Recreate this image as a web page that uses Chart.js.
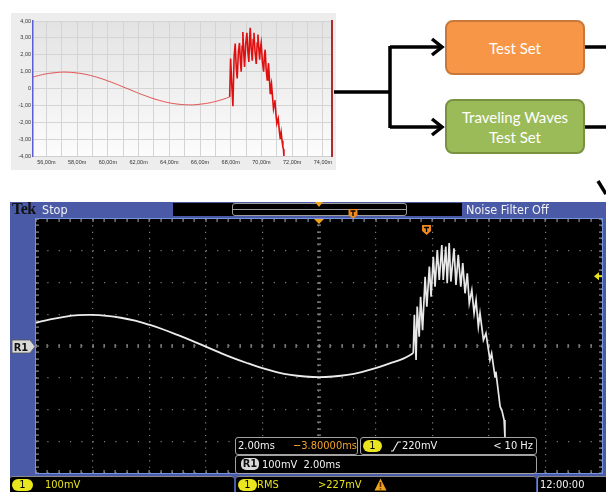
<!DOCTYPE html>
<html>
<head>
<meta charset="utf-8">
<script src="https://cdn.jsdelivr.net/npm/chart.js@4.4.1/dist/chart.umd.min.js"></script>
<style>
  body { margin: 0; width: 606px; height: 492px; position: relative; overflow: hidden; background: #fff; }
  .abs { position: absolute; }
  #wavePanel { left: 11px; top: 13px; width: 325px; height: 157px; background: #ededed; }
  .box { position: absolute; left: 445px; width: 140px; height: 55px; border-radius: 8px; box-sizing: border-box;
         color: #fff; font: 15px Lato, "Open Sans", sans-serif; display: flex; align-items: center;
         justify-content: center; text-align: center; line-height: 20px; }
  .orange { top: 20px; background: #f79646; border: 2px solid #c8783a; }
  .green { top: 99px; background: #9bbb59; border: 2px solid #78923f; }
  #scope { left: 10px; top: 202px; width: 596px; height: 290px; background: #4a5aa6; }
  .sc { font-family: "Liberation Sans Narrow", "DejaVu Sans Condensed", sans-serif; font-size: 11px; line-height: 14px; white-space: nowrap; }
  .w { color: #f2f2f2; }
  .yl { color: #e6e21c; }
  .ro { position: absolute; background: #000; border: 1.5px solid #a3a3a3; border-radius: 3px; box-sizing: border-box; }
  .ro span, .seg span, .seg div, .ro div { position: absolute; }
  .seg { position: absolute; top: 476px; height: 16px; background: #000; border-top: 1px solid #8a8a8a; }
  .badge { background: #e9e51e; color: #000; border-radius: 6px; text-align: center; height: 12px; line-height: 12px; }
</style>
</head>
<body>

<div id="wavePanel" class="abs"><canvas id="waveChart" width="325" height="157"></canvas></div>

<svg class="abs" style="left:0;top:0" width="606" height="200">
  <g stroke="#000" stroke-width="3.5" fill="none" stroke-linejoin="miter">
    <path d="M334,92 H390 M390,46 V128 M390,47 H441 M390,127 H441 M585,47 H606 M585,127 H606"/>
    <polyline points="432,39 442,47 432,55"/>
    <polyline points="432,119 442,127 432,135"/>
    <path d="M598,181 L606,194"/>
  </g>
</svg>
<div class="box orange">Test Set</div>
<div class="box green">Traveling Waves<br>Test Set</div>

<!-- oscilloscope frame -->
<div id="scope" class="abs"></div>
<div class="abs" style="left:12px;top:200px;font:bold 16px 'Liberation Serif',serif;color:#111;letter-spacing:-0.5px">Tek</div>
<div class="abs sc w" style="left:42px;top:203px;font-size:12.5px">Stop</div>
<div class="abs" style="left:173px;top:203px;width:289px;height:13px;background:#000"></div>
<div class="abs" style="left:232px;top:203px;width:175px;height:13px;border:1.5px solid #9c9c9c;border-radius:3px;box-sizing:border-box"></div>
<div class="abs" style="left:233px;top:208.5px;width:173px;height:1.5px;background:#9c9c9c"></div>
<svg class="abs" style="left:0;top:195px" width="606" height="30">
  <polygon points="315,7 323,7 319,12" fill="#f0a21c"/>
  <path d="M348.5,14 h9 v6 l-4.5,4 l-4.5,-4 z" fill="#f08a1c"/>
  <path d="M350.5,16 h5 M353,16 v5" stroke="#000" stroke-width="1.3"/>
</svg>
<div class="abs sc w" style="left:466px;top:203px;font-size:12.5px">Noise Filter Off</div>

<canvas id="scopeChart" class="abs" width="566" height="254" style="left:36px;top:219px;background:#000;outline:1px solid #7393e0"></canvas>

<svg id="r1Marker" class="abs" style="left:11px;top:339px" width="26" height="15">
  <path d="M1,1 h18 l5,6.5 l-5,6.5 h-18 z" fill="#d9d9d9" stroke="#555" stroke-width="0.8"/>
  <text x="10" y="11.5" text-anchor="middle" font-family="Liberation Sans Narrow, DejaVu Sans Condensed, sans-serif" font-weight="bold" font-size="11" fill="#111">R1</text>
</svg>

<!-- readouts over the graticule -->
<div class="ro sc" style="left:235px;top:437px;width:123px;height:18px">
  <span class="w" style="left:2px;top:1px">2.00ms</span>
  <span style="left:57px;top:1px;color:#f2a22a">−3.80000ms</span>
</div>
<div class="ro sc" style="left:360px;top:437px;width:177px;height:18px">
  <div class="badge" style="left:2px;top:1.5px;width:19px">1</div>
  <svg style="position:absolute;left:30px;top:3px" width="10" height="11"><path d="M0,10 H2 L7,1 H10" stroke="#eee" stroke-width="1.2" fill="none"/></svg>
  <span class="w" style="left:41px;top:1px">220mV</span>
  <span class="w" style="right:3px;top:1px">&lt; 10 Hz</span>
</div>
<div class="ro sc" style="left:235px;top:455px;width:302px;height:19px">
  <div style="left:5px;top:2px;width:18px;height:12px;background:#d9d9d9;color:#111;border-radius:5px;text-align:center;line-height:12px;font-weight:bold">R1</div>
  <span class="w" style="left:26px;top:1.5px">100mV&nbsp;&nbsp;2.00ms</span>
</div>

<!-- bottom readout row -->
<div class="seg sc" style="left:10px;width:224px;border-radius:3px 3px 0 0">
  <div class="badge" style="left:2px;top:1.5px;width:21px">1</div>
  <span class="yl" style="left:35px;top:1px">100mV</span>
</div>
<div class="seg sc" style="left:236px;width:300px;border-radius:3px 3px 0 0">
  <div class="badge" style="left:2px;top:1.5px;width:19px">1</div>
  <span class="yl" style="left:21px;top:1px">RMS</span>
  <span class="yl" style="left:82px;top:1px">&gt;227mV</span>
  <svg style="position:absolute;left:138px;top:1px" width="13" height="13">
    <polygon points="6.5,0.5 12.5,12.5 0.5,12.5" fill="#f0a21c"/>
    <path d="M6.5,4 V9 M6.5,10.3 V11.6" stroke="#5a2a00" stroke-width="1.6"/>
  </svg>
</div>
<div class="seg sc" style="left:537px;width:69px;border-radius:3px 0 0 0;border-left:1px solid #8a8a8a">
  <span class="w" style="left:2px;top:1px">12:00:00</span>
</div>

<script>
// --- reference waveform (top left), time in ms, value in kV ---
const refSmoothTimes = [55.1, 55.5, 56.0, 56.5, 57.0, 57.5, 58.0, 58.5, 59.0, 59.5, 60.0, 60.5, 61.0, 61.5,
                        62.0, 62.5, 63.0, 63.5, 64.0, 64.5, 65.0, 65.5, 66.0, 66.5, 67.0, 67.5, 67.93];
const refSmoothValues = [0.67, 0.77, 0.87, 0.93, 0.97, 0.96, 0.92, 0.85, 0.74, 0.61, 0.45, 0.28, 0.09, -0.09,
                         -0.28, -0.45, -0.61, -0.74, -0.85, -0.92, -0.96, -0.97, -0.93, -0.87, -0.77, -0.64, -0.50];
const refBurstTimes = [67.93, 67.99, 68.07, 68.14, 68.22, 68.29, 68.36, 68.42, 68.50, 68.57, 68.63, 68.68, 68.74,
                       68.79, 68.85, 68.90, 68.97, 69.05, 69.12, 69.18, 69.23, 69.27, 69.33, 69.40, 69.46, 69.51,
                       69.58, 69.66, 69.72, 69.77, 69.83, 69.88, 69.93, 69.98, 70.06, 70.14, 70.19, 70.24, 70.30,
                       70.37, 70.42, 70.46, 70.52, 70.57, 70.61, 70.65, 70.72, 70.78, 70.83, 70.87, 70.94, 71.00,
                       71.05, 71.09, 71.16, 71.22, 71.25, 71.28, 71.34, 71.39, 71.43, 71.46];
const refBurstValues = [-0.50, 1.78, 0.20, -1.05, 1.90, 2.66, 1.20, 0.59, 2.20, 2.70, 1.60, 1.00, 2.50,
                        3.35, 2.00, 1.28, 2.60, 3.30, 2.10, 1.57, 3.00, 3.60, 2.40, 1.65, 2.90, 3.30,
                        2.20, 1.45, 2.70, 3.20, 2.30, 1.70, 2.40, 2.70, 1.60, 1.00, 1.90, 2.30, 1.20,
                        0.50, 1.10, 1.50, 0.50, -0.30, 0.10, 0.30, -0.50, -1.18, -0.90, -0.69, -1.50, -2.07,
                        -1.90, -1.78, -2.50, -2.96, -2.80, -2.60, -3.10, -3.45, -3.60, -4.00];
const refTimeTicks = [56, 58, 60, 62, 64, 66, 68, 70, 72, 74];
const refTimeLabels = ['56,00m', '58,00m', '60,00m', '62,00m', '64,00m', '66,00m', '68,00m', '70,00m', '72,00m', '74,00m'];
const refValueTicks = [4, 3, 2, 1, 0, -1, -2, -3, -4];
const refValueLabels = ['4,00', '3,00', '2,00', '1,00', '0', '-1,00', '-2,00', '-3,00', '-4,00'];

// --- oscilloscope capture (bottom), time in ms from trigger, value in mV ---
const scopeSmoothTimes = [-10, -9.5, -9, -8.5, -8, -7.5, -7, -6.5, -6, -5.5, -5, -4.5, -4, -3.5, -3, -2.5, -2,
                          -1.5, -1, -0.5, 0, 0.5, 1, 1.5, 2, 2.5, 3, 3.33];
const scopeSmoothValues = [73, 84, 92, 97, 98, 95, 89, 80, 67, 52, 35, 17, -2, -21, -39, -55, -70,
                           -82, -91, -96, -98, -96, -91, -82, -70, -55, -39, -23];
const scopeBurstTimes = [3.33, 3.37, 3.43, 3.47, 3.54, 3.59, 3.66, 3.75, 3.81, 3.90, 3.96, 4.04, 4.10, 4.18,
                         4.25, 4.34, 4.39, 4.48, 4.53, 4.60, 4.66, 4.77, 4.84, 4.92, 5.01, 5.08, 5.16, 5.24,
                         5.31, 5.40, 5.48, 5.55, 5.63, 5.69, 5.81, 5.90, 6.04, 6.10, 6.22, 6.25, 6.40, 6.46,
                         6.54, 6.57, 6.60];
const scopeBurstValues = [-23, 98, -44, 124, 29, 155, 50, 218, 124, 250, 155, 281, 187, 302,
                          208, 318, 208, 313, 198, 324, 203, 308, 192, 287, 187, 261, 166, 229,
                          135, 176, 103, 145, 61, 103, 19, 40, -44, -23, -97, -81, -191, -202,
                          -233, -286, -330];
const scopeTriggerDelay = 3.8;   // ms
const scopeTriggerLevel = 220;   // mV

function toPoints(xs, ys) {
    return xs.map((x, i) => ({ x: x, y: ys[i] }));
}

// --- Reference chart ---
const plotBackground = {
    id: 'plotBackground',
    beforeDraw(chart) {
        const { ctx, chartArea: a } = chart;
        const g = ctx.createLinearGradient(0, a.top, 0, a.bottom);
        g.addColorStop(0, '#e3e3e3');
        g.addColorStop(1, '#fcfcfc');
        ctx.save();
        ctx.fillStyle = g;
        ctx.fillRect(a.left, a.top, a.right - a.left, a.bottom - a.top);
        ctx.restore();
    }
};

const smallFont = { size: 5.5, family: 'Liberation Sans, Arial, sans-serif' };

new Chart(document.getElementById('waveChart'), {
    type: 'line',
    data: {
        datasets: [
            { data: toPoints(refSmoothTimes, refSmoothValues), borderColor: '#e25050', borderWidth: 1, pointRadius: 0, tension: 0.4 },
            { data: toPoints(refBurstTimes, refBurstValues), borderColor: '#e01010', borderWidth: 1.6, pointRadius: 0, tension: 0 }
        ]
    },
    options: {
        responsive: false,
        animation: false,
        devicePixelRatio: 1,
        layout: { padding: { top: 8, right: 4, left: 0, bottom: 0 } },
        plugins: { legend: { display: false }, tooltip: { enabled: false } },
        scales: {
            x: {
                type: 'linear', min: 55.13, max: 74.59,
                afterFit: (s) => { s.height = 14; },
                grid: { color: '#d4d4d4', drawTicks: false },
                border: { color: '#cfcfcf' },
                ticks: {
                    stepSize: 1, includeBounds: false, autoSkip: false, maxRotation: 0, padding: 3,
                    color: '#333', font: smallFont,
                    callback: (v) => {
                        const i = refTimeTicks.indexOf(Math.round(v));
                        return i >= 0 ? refTimeLabels[i] : '';
                    }
                }
            },
            y: {
                min: -4, max: 4,
                afterFit: (s) => { s.width = 22; },
                grid: { color: '#d4d4d4', drawTicks: false },
                border: { color: '#5a5ed2', width: 1.5 },
                ticks: {
                    stepSize: 1, padding: 2, color: '#333', font: smallFont,
                    callback: (v) => {
                        const i = refValueTicks.indexOf(Math.round(v));
                        return i >= 0 ? refValueLabels[i] : '';
                    }
                }
            },
            y2: {
                position: 'right', min: -4, max: 4,
                afterFit: (s) => { s.width = 0; },
                grid: { display: false },
                ticks: { display: false },
                border: { color: '#b22a2a', width: 2 }
            }
        }
    },
    plugins: [plotBackground]
});

// --- Oscilloscope chart ---
const graticuleTicks = {
    id: 'graticuleTicks',
    beforeDatasetsDraw(chart) {
        const { ctx, chartArea: a, scales: { x, y } } = chart;
        const cx = x.getPixelForValue(0), cy = y.getPixelForValue(0);
        ctx.save();
        ctx.fillStyle = '#8e8e8e';
        for (let k = -25; k <= 25; k++) {
            const px = Math.round(x.getPixelForValue(k * 0.4));
            ctx.fillRect(px - 0.5, cy - 2, 1.2, 4);
            ctx.fillRect(px - 0.5, a.top, 1.2, 3);
            ctx.fillRect(px - 0.5, a.bottom - 3, 1.2, 3);
        }
        for (let k = -20; k <= 20; k++) {
            const py = Math.round(y.getPixelForValue(k * 20));
            ctx.fillRect(cx - 2, py - 0.5, 4, 1.2);
            ctx.fillRect(a.left, py - 0.5, 3, 1.2);
            ctx.fillRect(a.right - 3, py - 0.5, 3, 1.2);
        }
        ctx.restore();
    },
    afterDatasetsDraw(chart) {
        const { ctx, chartArea: a, scales: { x, y } } = chart;
        ctx.save();
        // trigger position
        const cx = x.getPixelForValue(0);
        ctx.fillStyle = '#f0a21c';
        ctx.beginPath();
        ctx.moveTo(cx - 5, a.top);
        ctx.lineTo(cx + 5, a.top);
        ctx.lineTo(cx, a.top + 5);
        ctx.closePath();
        ctx.fill();
        // delay marker
        const dx = x.getPixelForValue(scopeTriggerDelay);
        ctx.fillStyle = '#f08a1c';
        ctx.beginPath();
        ctx.moveTo(dx - 4.5, a.top + 6);
        ctx.lineTo(dx + 4.5, a.top + 6);
        ctx.lineTo(dx + 4.5, a.top + 12);
        ctx.lineTo(dx, a.top + 16);
        ctx.lineTo(dx - 4.5, a.top + 12);
        ctx.closePath();
        ctx.fill();
        ctx.strokeStyle = '#000';
        ctx.lineWidth = 1.3;
        ctx.beginPath();
        ctx.moveTo(dx - 2.5, a.top + 8.5);
        ctx.lineTo(dx + 2.5, a.top + 8.5);
        ctx.moveTo(dx, a.top + 8.5);
        ctx.lineTo(dx, a.top + 13);
        ctx.stroke();
        // trigger level
        const ly = y.getPixelForValue(scopeTriggerLevel);
        ctx.fillStyle = '#e6e21c';
        ctx.beginPath();
        ctx.moveTo(a.right - 8, ly);
        ctx.lineTo(a.right - 3, ly - 4);
        ctx.lineTo(a.right - 3, ly + 4);
        ctx.closePath();
        ctx.fill();
        ctx.fillRect(a.right - 4, ly - 1, 4, 2);
        ctx.restore();
    }
};

const scopeChart = new Chart(document.getElementById('scopeChart'), {
    type: 'line',
    data: {
        datasets: [
            { data: toPoints(scopeSmoothTimes, scopeSmoothValues), borderColor: '#ececec', borderWidth: 1.8, pointRadius: 0, tension: 0.4 },
            { data: toPoints(scopeBurstTimes, scopeBurstValues), borderColor: '#e8e8e8', borderWidth: 1.7, pointRadius: 0, tension: 0 }
        ]
    },
    options: {
        responsive: false,
        animation: false,
        devicePixelRatio: 1,
        layout: { padding: 0 },
        plugins: { legend: { display: false }, tooltip: { enabled: false } },
        scales: {
            x: {
                type: 'linear', min: -10, max: 10,
                afterFit: (s) => { s.height = 0; },
                ticks: { display: false, stepSize: 2 },
                grid: { color: '#7c7c7c', drawTicks: false, lineWidth: 1.2 },
                border: { display: false, dash: [1.2, 5.15] }
            },
            y: {
                min: -400, max: 400,
                afterFit: (s) => { s.width = 0; },
                ticks: { display: false, stepSize: 100 },
                grid: { color: '#7c7c7c', drawTicks: false, lineWidth: 1.2 },
                border: { display: false, dash: [1.2, 10.12] }
            }
        }
    },
    plugins: [graticuleTicks]
});

// R1 reference marker sits on the 0 mV line
const r1Top = 219 + scopeChart.scales.y.getPixelForValue(0) - 7;
document.getElementById('r1Marker').style.top = r1Top + 'px';
</script>
</body>
</html>
